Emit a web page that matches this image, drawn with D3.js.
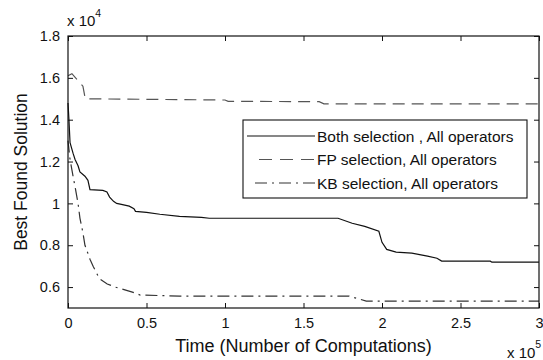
<!DOCTYPE html>
<html>
<head>
<meta charset="utf-8">
<script src="https://cdn.jsdelivr.net/npm/d3@7"></script>
<style>
  body { margin: 0; background: #fff; }
  text { font-family: "Liberation Sans", Arial, sans-serif; fill: #111; }
</style>
</head>
<body>
<svg id="chart" width="543" height="360"></svg>
<script>
// x in units of 1e5 computations, y in units of 1e4
const bothX = [0, 0.006, 0.013, 0.032, 0.045, 0.064, 0.076, 0.108, 0.127, 0.14, 0.222, 0.248, 0.265, 0.29, 0.31, 0.34, 0.39, 0.42, 0.43, 0.5, 0.585, 0.71, 0.85, 0.9, 1.72, 1.81, 1.89, 1.98, 2.0, 2.03, 2.09, 2.19, 2.29, 2.35, 2.38, 2.69, 2.7, 3.0];
const bothY = [1.48, 1.4, 1.29, 1.24, 1.21, 1.18, 1.15, 1.13, 1.11, 1.066, 1.062, 1.055, 1.03, 1.01, 1.0, 0.995, 0.987, 0.975, 0.962, 0.957, 0.948, 0.938, 0.933, 0.929, 0.929, 0.905, 0.89, 0.867, 0.814, 0.78, 0.767, 0.762, 0.748, 0.738, 0.724, 0.724, 0.719, 0.719];

const fpX = [0, 0.025, 0.095, 0.11, 1.0, 1.02, 1.6, 1.63, 3.0];
const fpY = [1.61, 1.62, 1.56, 1.5, 1.494, 1.488, 1.486, 1.476, 1.476];

const kbX = [0, 0.013, 0.032, 0.045, 0.064, 0.076, 0.095, 0.108, 0.14, 0.16, 0.2, 0.25, 0.3, 0.41, 0.46, 0.71, 1.79, 1.9, 3.0];
const kbY = [1.3, 1.21, 1.13, 1.08, 1.0, 0.93, 0.86, 0.8, 0.733, 0.7, 0.64, 0.615, 0.6, 0.576, 0.562, 0.557, 0.557, 0.533, 0.533];

const xTicks = [0, 0.5, 1, 1.5, 2, 2.5, 3];
const yTicks = [0.6, 0.8, 1, 1.2, 1.4, 1.6, 1.8];

const seriesNames = ['Both selection , All operators', 'FP selection, All operators', 'KB selection, All operators'];
const seriesDash = [null, '12,7', '12,5,2,5'];
const seriesColor = ['#111', '#555', '#333'];
const legendDash = [null, '13,8', '12,5,2,5'];
const legendStart = [4, 16, 12];

const margin = {left: 68, top: 36, right: 4, bottom: 52};
const svg = d3.select('#chart');
const W = 543, H = 360;
const x = d3.scaleLinear().domain([0, 3]).range([margin.left, W - margin.right]);
const y = d3.scaleLinear().domain([0.5, 1.8]).range([H - margin.bottom, margin.top]);

const series = [
  d3.zip(bothX, bothY),
  d3.zip(fpX, fpY),
  d3.zip(kbX, kbY)
];

const line = d3.line().x(d => x(d[0])).y(d => y(d[1]));

svg.append('g')
  .selectAll('path')
  .data(series)
  .enter()
  .append('path')
  .attr('d', line)
  .attr('fill', 'none')
  .attr('stroke', (d, i) => seriesColor[i])
  .attr('stroke-width', 1.2)
  .attr('stroke-dasharray', (d, i) => seriesDash[i]);

// axes with inward ticks on all four sides
const tickFmt = d3.format('~g');
const x0 = x.range()[0], x1 = x.range()[1];
const y0 = y.range()[0], y1 = y.range()[1];

svg.append('g')
  .attr('transform', `translate(0,${y0})`)
  .call(d3.axisBottom(x).tickValues(xTicks).tickFormat(tickFmt).tickSizeInner(-5).tickSizeOuter(0).tickPadding(10))
  .call(g => g.select('.domain').remove());
svg.append('g')
  .attr('transform', `translate(0,${y1})`)
  .call(d3.axisTop(x).tickValues(xTicks).tickFormat('').tickSizeInner(-5).tickSizeOuter(0))
  .call(g => g.select('.domain').remove());
svg.append('g')
  .attr('transform', `translate(${x0},0)`)
  .call(d3.axisLeft(y).tickValues(yTicks).tickFormat(tickFmt).tickSizeInner(-5).tickSizeOuter(0).tickPadding(8))
  .call(g => g.select('.domain').remove());
svg.append('g')
  .attr('transform', `translate(${x1},0)`)
  .call(d3.axisRight(y).tickValues(yTicks).tickFormat('').tickSizeInner(-5).tickSizeOuter(0))
  .call(g => g.select('.domain').remove());

svg.selectAll('.tick line').attr('stroke', '#111');
svg.selectAll('.tick text').attr('font-size', 14.5).attr('fill', '#111');

svg.append('rect')
  .attr('x', x0).attr('y', y1)
  .attr('width', x1 - x0).attr('height', y0 - y1)
  .attr('fill', 'none').attr('stroke', '#111').attr('stroke-width', 1.2);

// exponent labels
const expTop = svg.append('text').attr('x', x0 - 1).attr('y', 26).attr('font-size', 15);
expTop.append('tspan').text('x 10');
expTop.append('tspan').attr('dy', -9).attr('font-size', 10.5).text('4');

const expBot = svg.append('text').attr('x', 507).attr('y', 358).attr('font-size', 15);
expBot.append('tspan').text('x 10');
expBot.append('tspan').attr('dy', -10).attr('font-size', 10.5).text('5');

// axis titles
svg.append('text')
  .attr('x', (x0 + x1) / 2).attr('y', 352)
  .attr('text-anchor', 'middle').attr('font-size', 18)
  .text('Time (Number of Computations)');
svg.append('text')
  .attr('transform', `translate(27,${(y0 + y1) / 2}) rotate(-90)`)
  .attr('text-anchor', 'middle').attr('font-size', 17.5)
  .text('Best Found Solution');

// legend
const legend = svg.append('g').attr('transform', 'translate(243,120)');
legend.append('rect')
  .attr('width', 284).attr('height', 78)
  .attr('fill', '#fff').attr('stroke', '#111').attr('stroke-width', 1.1);
const rows = legend.selectAll('.row')
  .data(seriesNames)
  .enter()
  .append('g')
  .attr('class', 'row')
  .attr('transform', (d, i) => `translate(0,${16 + i * 23.5})`);
rows.append('line')
  .attr('x1', (d, i) => legendStart[i]).attr('x2', 72)
  .attr('stroke', (d, i) => seriesColor[i])
  .attr('stroke-width', 1.2)
  .attr('stroke-dasharray', (d, i) => legendDash[i]);
rows.append('text')
  .attr('x', 74).attr('dy', '0.36em')
  .attr('font-size', 15.5)
  .text(d => d);
</script>
</body>
</html>
